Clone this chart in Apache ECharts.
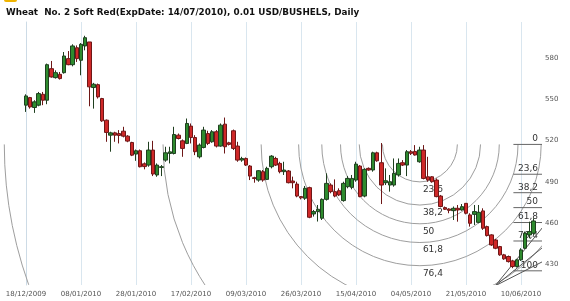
<!DOCTYPE html>
<html><head><meta charset="utf-8">
<script src="https://cdn.jsdelivr.net/npm/echarts@6/dist/echarts.min.js"></script>
<style>html,body{margin:0;padding:0;background:#fff}#c{width:570px;height:301px}</style>
</head><body><div id="c"></div><script>
// Daily OHLC, one entry per trading day starting 18/12/2009
const openP  = [545.6,551.1,543.9,545.6,553.5,549.2,572.1,565.6,568.0,569.2,579.4,575.0,587.3,578.2,588.6,591.5,558.4,560.5,550.4,534.7,
  523.8,525.5,525.0,526.7,523.1,518.5,510.1,512.5,503.0,502.1,513.0,494.9,500.4,505.7,510.5,510.5,523.8,519.7,517.8,530.4,
  522.1,508.1,514.9,525.0,519.0,526.3,515.9,531.8,518.3,527.0,515.9,505.7,506.9,501.4,492.9,491.2,497.3,491.7,500.9,506.9,
  503.3,497.3,497.8,490.5,488.3,479.2,478.0,485.7,466.6,468.3,463.5,477.2,487.6,482.8,483.5,476.3,486.4,485.9,491.2,501.4,
  479.6,499.7,498.5,511.0,503.8,489.3,487.6,487.6,494.9,503.8,502.1,511.8,512.0,504.5,513.0,493.6,493.6,491.2,479.6,471.2,
  470.2,469.0,470.7,469.5,474.3,465.9,466.3,460.5,468.8,457.4,451.4,447.7,442.9,436.9,435.7,432.5,428.4,433.3,441.7,451.4,452.6];
const closeP = [552.3,544.3,548.0,554.0,549.2,575.0,566.1,569.2,564.9,581.3,575.0,588.6,579.4,589.8,594.6,558.9,560.8,551.6,534.2,525.8,
  525.5,523.8,523.6,523.1,519.5,509.3,512.5,500.9,501.0,513.0,495.6,502.1,500.9,511.0,511.7,524.3,521.4,514.2,532.3,522.1,
  511.8,516.6,527.5,517.8,526.3,515.9,531.1,515.4,517.1,514.2,505.7,506.9,502.1,494.1,492.4,498.0,491.2,499.7,508.6,502.1,
  497.3,498.5,489.3,489.3,479.6,478.3,485.2,464.2,468.3,470.0,477.2,488.8,482.8,479.6,480.4,488.8,492.4,492.4,502.8,479.2,
  499.0,498.5,511.0,505.2,487.6,490.7,490.0,496.1,503.3,502.1,511.8,510.6,509.4,513.0,492.4,491.2,490.0,479.2,472.0,470.0,
  469.2,470.7,469.5,471.9,467.1,459.8,468.3,467.8,456.2,450.9,444.1,441.7,436.9,434.0,432.0,428.4,433.3,440.5,452.6,453.8,461.5];
const lowP   = [540.7,543.1,540.0,544.8,545.6,546.3,565.6,564.9,564.2,568.5,574.6,573.8,577.0,567.3,585.4,544.8,543.1,550.4,533.5,519.0,
  511.8,519.0,517.8,522.2,518.7,508.6,505.2,500.4,499.0,500.9,494.1,493.6,494.1,504.5,503.3,509.8,520.7,508.1,517.3,517.8,
  509.3,506.9,514.2,516.6,518.3,514.9,515.4,510.5,516.3,513.0,504.5,504.5,501.4,491.2,489.3,490.0,490.0,491.2,499.7,501.4,
  496.1,494.9,488.8,485.2,478.7,477.2,476.8,463.5,464.7,461.1,462.2,476.3,481.6,478.7,479.6,475.5,485.2,484.5,490.0,478.7,
  478.7,498.0,497.3,504.5,473.8,487.6,482.8,486.4,493.7,501.4,494.1,509.4,509.0,503.8,491.7,490.0,489.3,478.7,471.4,469.5,
  467.1,462.2,461.0,469.0,466.3,457.4,458.6,459.8,455.0,450.2,443.4,441.0,436.2,433.3,431.3,427.2,427.7,432.5,441.2,448.9,451.4];
const highP  = [553.5,551.6,549.2,555.2,555.2,575.8,577.7,570.9,569.7,584.2,584.9,589.8,589.0,590.7,596.0,591.5,561.8,561.3,550.9,535.2,
  526.3,526.3,527.5,529.9,523.8,519.0,513.4,513.4,504.0,519.0,519.7,503.3,502.1,515.4,515.4,529.9,525.0,520.7,535.9,532.3,
  523.8,517.8,529.9,527.0,527.5,527.5,532.3,536.6,519.0,527.9,519.0,508.1,507.6,502.1,493.6,498.5,498.5,500.9,509.3,508.1,
  504.5,504.5,498.5,493.7,490.0,479.6,486.9,486.4,469.5,473.1,477.9,496.1,488.8,491.7,485.2,490.0,494.1,494.9,504.5,502.1,
  499.7,500.4,511.8,511.8,518.1,499.7,494.9,506.9,506.9,505.7,513.0,513.0,516.6,515.4,516.6,508.1,494.1,492.4,480.4,472.0,
  470.7,472.0,473.1,473.8,474.3,467.1,473.1,473.1,470.7,458.1,451.9,448.5,443.4,437.6,436.4,433.3,434.0,441.7,453.8,461.0,463.4];
const tickIndex  = [0,13,26,39,52,65,78,91,104,117];
const tickLabels = ['18/12/2009','08/01/2010','28/01/2010','17/02/2010','09/03/2010','26/03/2010','15/04/2010','04/05/2010','21/05/2010','10/06/2010'];
const priceTicks = [430,460,490,520,550,580];
// Fibonacci drawing anchors [day index, price]
const fibStart = [93.1, 517.1];   // 0 level, arc centre
const fibEnd   = [115.8, 425.3];  // 100 level
const arcLevels = [0.236,0.382,0.5,0.618,0.764,1,1.618,2.618];
const arcLabels = ['23,6','38,2','50','61,8','76,4','','',''];
const retrLevels = [0,0.236,0.382,0.5,0.618,0.764,1];
const retrLabels = ['0','23,6','38,2','50','61,8','76,4','100'];
const fanStart = [110.9, 414.4];
const fanEnds  = [[122, 456.4],[122, 442.0],[122, 431.8]];

const X_MIN = -6.145, X_MAX = 121.96;
const candles = openP.map((o,i)=>[i,o,closeP[i],lowP[i],highP[i]]);
const FONT = 'DejaVu Sans';

const chart = echarts.init(document.getElementById('c'), null, {renderer:'canvas'});
chart.setOption({
  animation:false,
  backgroundColor:'#fff',
  title:{text:'Wheat  No. 2 Soft Red(ExpDate: 14/07/2010), 0.01 USD/BUSHELS, Daily', left:6, top:8, padding:0,
    textStyle:{fontFamily:FONT, fontSize:8.8, fontWeight:'bold', color:'#111'}},
  graphic:[{type:'rect', shape:{x:4,y:-3,width:13,height:5,r:2}, style:{fill:'#f0b400'}}],
  grid:{left:0, right:28, top:22, bottom:16, outerBoundsMode:'none', containLabel:false},
  xAxis:{type:'value', min:X_MIN, max:X_MAX,
    axisLine:{show:false}, axisTick:{show:false}, splitLine:{show:false},
    axisLabel:{customValues:tickIndex, fontFamily:FONT, fontSize:7, color:'#555', margin:6,
      formatter:(v)=>{const k=tickIndex.indexOf(Math.round(v)); return k>=0?tickLabels[k]:'';}}},
  yAxis:{type:'value', position:'right', min:415, max:606, scale:true,
    axisLine:{show:true, lineStyle:{color:'#cddbe6'}}, axisTick:{show:false}, splitLine:{show:false},
    axisLabel:{customValues:priceTicks, fontFamily:FONT, fontSize:7, color:'#555', margin:3}},
  series:[
    {type:'custom', z:1, clip:true, silent:true, data:[[fibStart[0],fibStart[1]]],
      renderItem:(params, api)=>{
        const c = api.coord(fibStart), b = api.coord(fibEnd);
        const R = Math.hypot(b[0]-c[0], b[1]-c[1]);
        const ch = [];
        arcLevels.forEach((lv,k)=>{
          ch.push({type:'arc', shape:{cx:c[0], cy:c[1], r:R*lv, startAngle:0, endAngle:Math.PI, clockwise:true},
            style:{stroke:'#9e9e9e', lineWidth:1, fill:null}});
          if (arcLabels[k]) ch.push({type:'text', style:{text:arcLabels[k], x:c[0]+3, y:c[1]+R*lv+3,
            font:'9px '+FONT, fill:'#333', textVerticalAlign:'top'}});
        });
        const xr = api.coord([X_MAX, fibEnd[1]])[0];
        retrLevels.forEach((lv,k)=>{
          const p = fibStart[1] - (fibStart[1]-fibEnd[1])*lv;
          const pt = api.coord([fibEnd[0]-0.6, p]);
          ch.push({type:'line', shape:{x1:pt[0], y1:pt[1], x2:xr, y2:pt[1]}, style:{stroke:'#666', lineWidth:1}});
          ch.push({type:'text', style:{text:retrLabels[k], x:xr-4, y:pt[1]-1, font:'9px '+FONT, fill:'#333',
            textAlign:'right', textVerticalAlign:'bottom'}});
        });
        const fs = api.coord(fanStart);
        fanEnds.forEach(e=>{const q=api.coord(e); ch.push({type:'line', shape:{x1:fs[0],y1:fs[1],x2:q[0],y2:q[1]}, style:{stroke:'#555', lineWidth:1}});});
        return {type:'group', children:ch};
      }},
    {type:'candlestick', z:3, data:candles, barWidth:4,
      itemStyle:{color:'#2e8b2e', color0:'#cf2828', borderColor:'#1f3f1f', borderColor0:'#6e1717', borderWidth:1},
      markLine:{silent:true, symbol:['none','none'], label:{show:false}, z:0,
        lineStyle:{color:'#d9e6ef', width:1, type:'solid'},
        data: tickIndex.map(i=>({xAxis:i}))}}
  ]
});
</script></body></html>
